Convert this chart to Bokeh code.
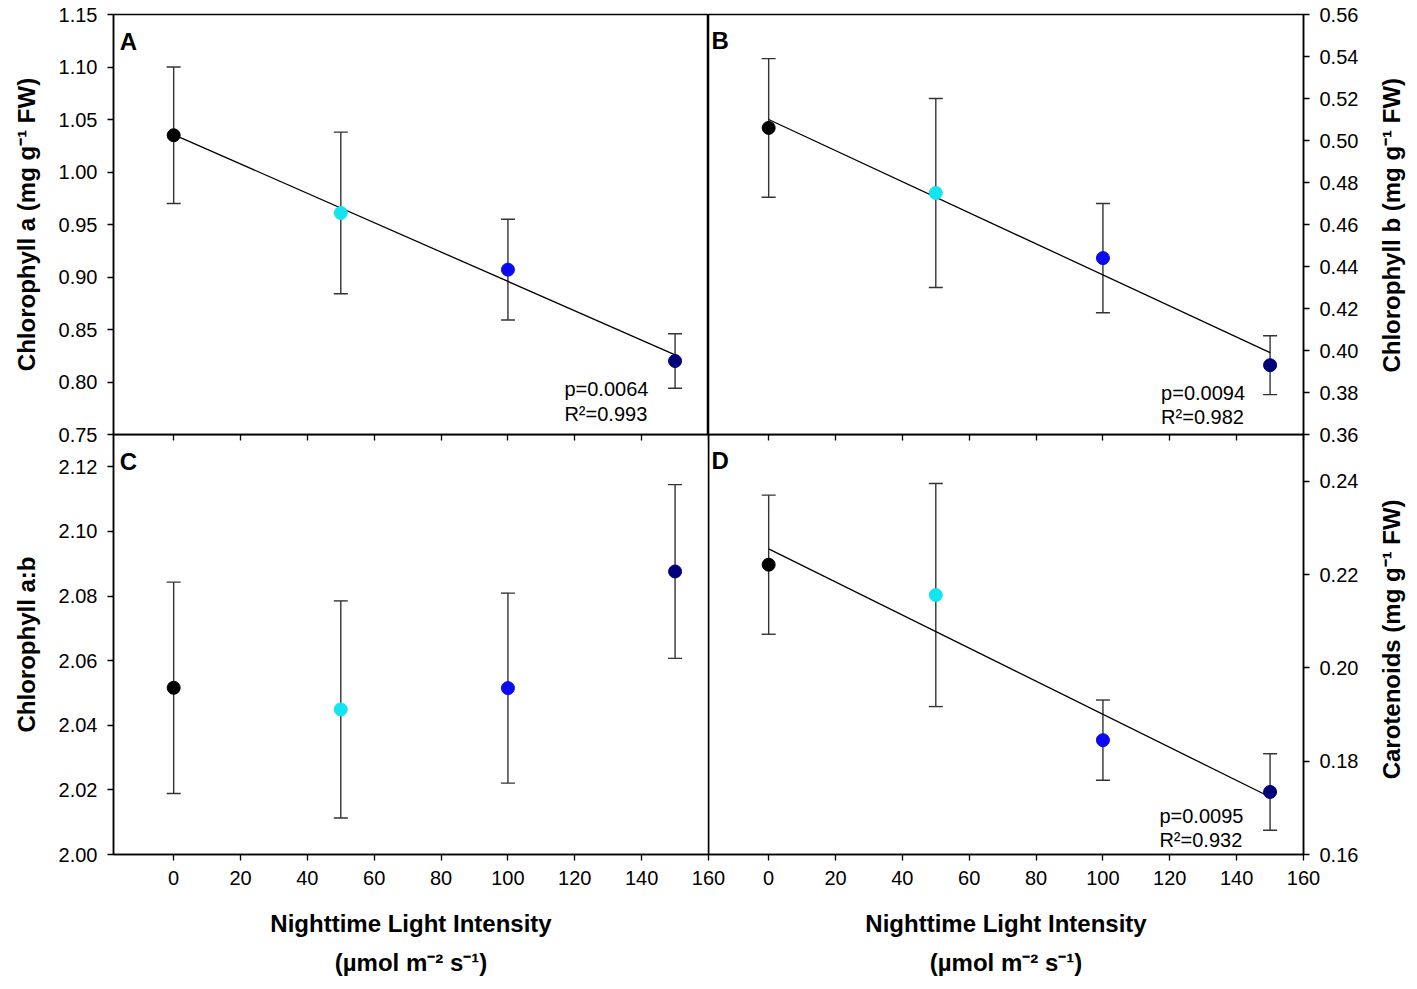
import numpy as np
from bokeh.plotting import figure
from bokeh.models import (LinearAxis, FixedTicker, PrintfTickFormatter, Whisker,
                          ColumnDataSource, Label, Range1d, TeeHead, CustomJSTickFormatter)
from bokeh.layouts import column, row
from bokeh.embed import file_html
from bokeh.resources import INLINE

# ---------------- data ----------------
light = [0, 50, 100, 150]
level_colors = ["#000000", "#14E4F0", "#0A0AF5", "#00007A"]

chl_a = [1.035, 0.961, 0.907, 0.820]
chl_a_err = [0.065, 0.077, 0.048, 0.026]

chl_b = [0.506, 0.475, 0.444, 0.393]
chl_b_err = [0.033, 0.045, 0.026, 0.014]

chl_ab = [2.0516, 2.0449, 2.0515, 2.0876]
chl_ab_err = [0.0327, 0.0336, 0.0294, 0.0269]

carot = [0.2221, 0.2156, 0.1845, 0.1734]
carot_err = [0.0149, 0.0239, 0.0086, 0.0082]

x_ticks = [0, 20, 40, 60, 80, 100, 120, 140, 160]
a_ticks = [0.75, 0.80, 0.85, 0.90, 0.95, 1.00, 1.05, 1.10, 1.15]
b_ticks = [0.36, 0.38, 0.40, 0.42, 0.44, 0.46, 0.48, 0.50, 0.52, 0.54, 0.56]
ab_ticks = [2.00, 2.02, 2.04, 2.06, 2.08, 2.10, 2.12]
car_ticks = [0.16, 0.18, 0.20, 0.22, 0.24]

stats_a = ["p=0.0064", "R\u00b2=0.993"]
stats_b = ["p=0.0094", "R\u00b2=0.982"]
stats_d = ["p=0.0095", "R\u00b2=0.932"]

xlabel_1 = "Nighttime Light Intensity"
xlabel_2 = "(\u00b5mol m\u207b\u00b2 s\u207b\u00b9)"

FONT = "Liberation Sans"
TICK_FS = "20px"
TITLE_FS = "24px"


def style_axis(ax):
    ax.major_label_text_font = FONT
    ax.major_label_text_font_size = TICK_FS
    ax.major_label_text_color = "black"
    ax.major_label_standoff = 10
    ax.major_tick_out = 6
    ax.major_tick_in = 0
    ax.major_tick_line_color = "black"
    ax.major_tick_line_width = 1.3
    ax.minor_tick_line_color = None
    ax.axis_line_color = "black"
    ax.axis_line_width = 1.5
    ax.axis_label_text_font = FONT
    ax.axis_label_text_font_size = TITLE_FS
    ax.axis_label_text_font_style = "bold"
    ax.axis_label_text_color = "black"


def make_panel(yr, yticks, ylabel, side, bottom_labels, mb, transparent=False,
               title_start=None):
    p = figure(frame_width=595, frame_height=420,
               x_range=Range1d(-18, 160), y_range=Range1d(*yr),
               output_backend="svg", toolbar_location=None,
               x_axis_location=None, y_axis_location=None,
               min_border_left=mb[3], min_border_right=mb[1],
               min_border_top=mb[0], min_border_bottom=mb[2])
    p.grid.grid_line_color = None
    p.outline_line_color = "black"
    p.outline_line_width = 1.5
    if transparent:
        p.background_fill_alpha = 0
        p.border_fill_alpha = 0
    ya = LinearAxis(ticker=FixedTicker(ticks=yticks),
                    formatter=PrintfTickFormatter(format="%.2f"))
    style_axis(ya)
    if side == "left":
        ya.axis_label = ylabel
        ya.axis_label_standoff = 16
        p.add_layout(ya, side)
    else:
        p.add_layout(ya, side)
        # title on the right, reading bottom-to-top like the left-hand titles:
        # a single tick whose label is the title text, rotated
        yt = LinearAxis(ticker=FixedTicker(ticks=[title_start]),
                        formatter=CustomJSTickFormatter(args=dict(t=ylabel), code="return t"))
        style_axis(yt)
        yt.axis_line_color = None
        yt.major_tick_out = 0
        yt.major_tick_line_color = None
        yt.major_label_standoff = 30
        yt.major_label_text_font_size = TITLE_FS
        yt.major_label_text_font_style = "bold"
        yt.major_label_orientation = np.pi / 2
        p.add_layout(yt, side)
    xa = LinearAxis(ticker=FixedTicker(ticks=x_ticks))
    style_axis(xa)
    if not bottom_labels:
        xa.major_label_text_font_size = "0px"
        xa.major_label_standoff = 0
        xa.major_label_overrides = {t: "" for t in x_ticks}
        p.add_layout(xa, "below")
    else:
        xa.axis_label = xlabel_1
        xa.axis_label_standoff = 22
        p.add_layout(xa, "below")
        xa2 = LinearAxis(ticker=FixedTicker(ticks=[]), axis_label=xlabel_2)
        style_axis(xa2)
        xa2.axis_line_color = None
        xa2.major_tick_out = 0
        xa2.major_label_standoff = 0
        xa2.axis_label_standoff = 9
        p.add_layout(xa2, "below")
    return p


def add_data(p, vals, errs, fit):
    src = ColumnDataSource(dict(
        x=light, y=vals,
        upper=[v + e for v, e in zip(vals, errs)],
        lower=[v - e for v, e in zip(vals, errs)],
        color=level_colors))
    w = Whisker(source=src, base="x", upper="upper", lower="lower",
                line_color="#333333", line_width=1.4, level="underlay",
                upper_head=TeeHead(size=14, line_color="#333333", line_width=1.4),
                lower_head=TeeHead(size=14, line_color="#333333", line_width=1.4))
    p.add_layout(w)
    if fit:
        slope, inter = np.polyfit(light, vals, 1)
        xs = [light[0], light[-1]]
        p.line(xs, [inter + slope * x for x in xs], line_color="black", line_width=1.3)
    p.scatter("x", "y", source=src, size=13, fill_color="color", line_color="color")


def add_text(p, text, x, y, size="20px", bold=False, align="left"):
    p.add_layout(Label(x=x, y=y, text=text, text_font=FONT, text_font_size=size,
                       text_font_style="bold" if bold else "normal",
                       text_align=align, text_baseline="alphabetic",
                       text_color="black"))


# Panel A
pa = make_panel((0.75, 1.15), a_ticks, "Chlorophyll a (mg g\u207b\u00b9 FW)", "left",
                False, (14, 0, 10, 113))
add_data(pa, chl_a, chl_a_err, True)
add_text(pa, "A", -16.1, 1.1243, size="24px", bold=True)
add_text(pa, stats_a[0], 116.9, 0.7935)
add_text(pa, stats_a[1], 116.9, 0.7697)

# Panel B
pb = make_panel((0.36, 0.56), b_ticks, "Chlorophyll b (mg g\u207b\u00b9 FW)", "right",
                False, (14, 114, 10, 0), title_start=0.3895)
add_data(pb, chl_b, chl_b_err, True)
add_text(pb, "B", -17.1, 0.5475, size="24px", bold=True)
add_text(pb, stats_b[0], 117.4, 0.3800)
add_text(pb, stats_b[1], 117.4, 0.3682)

# Panel C
pc = make_panel((2.00, 2.13), ab_ticks, "Chlorophyll a:b", "left",
                True, (0, 20, 128, 113), transparent=True)
add_data(pc, chl_ab, chl_ab_err, False)
add_text(pc, "C", -16.1, 2.1217, size="24px", bold=True)

# Panel D
pd_ = make_panel((0.16, 0.25), car_ticks, "Carotenoids (mg g\u207b\u00b9 FW)", "right",
                 True, (0, 114, 128, 0), transparent=True, title_start=0.1761)
add_data(pd_, carot, carot_err, True)
add_text(pd_, "D", -17.1, 0.2445, size="24px", bold=True)
add_text(pd_, stats_d[0], 116.9, 0.1682)
add_text(pd_, stats_d[1], 116.9, 0.1631)

pd_.margin = (0, 0, 0, -20)
bottom = row(pc, pd_, margin=(-10, 0, 0, 0))
top = row(pa, pb)
layout = column(top, bottom)

open("out.html", "w").write(file_html(layout, INLINE))
